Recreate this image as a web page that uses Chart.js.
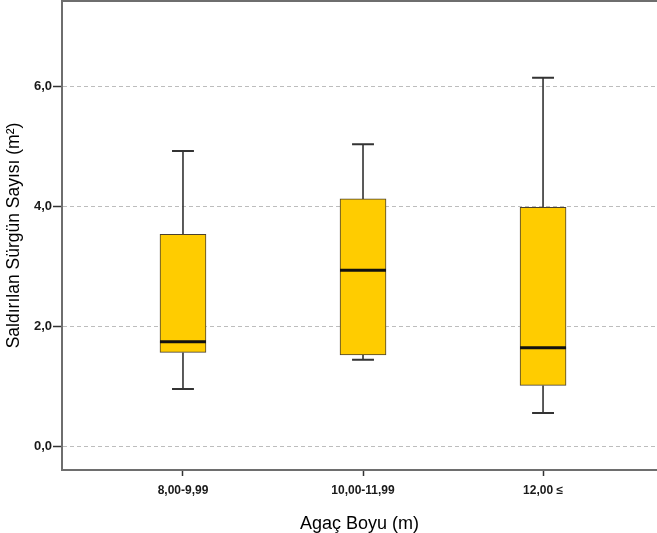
<!DOCTYPE html>
<html>
<head>
<meta charset="utf-8">
<script src="https://cdn.jsdelivr.net/npm/chart.js@4/dist/chart.umd.min.js"></script>
<style>
  html, body { margin: 0; padding: 0; background: #ffffff; }
  #wrap { width: 657px; height: 533px; }
</style>
</head>
<body>
<div id="wrap"><canvas id="c" width="657" height="533"></canvas></div>
<script>
const categories = ['8,00-9,99', '10,00-11,99', '12,00 \u2264'];
const whiskerLow = [0.95, 1.44, 0.55];
const quartile1 = [1.56, 1.52, 1.01];
const medians = [1.74, 2.93, 1.64];
const quartile3 = [3.53, 4.12, 3.98];
const whiskerHigh = [4.92, 5.03, 6.14];
const yTickValues = [0, 2, 4, 6];

const boxData = categories.map((c, i) => ({ x: i + 1, y: [quartile1[i], quartile3[i]] }));

const fontFamily = '"Liberation Sans", Arial, sans-serif';

const boxPlotPlugin = {
  id: 'boxPlotParts',
  beforeDatasetsDraw(chart) {
    const ctx = chart.ctx;
    const xs = chart.scales.x, ys = chart.scales.y;
    const meta = chart.getDatasetMeta(0);
    ctx.save();
    ctx.strokeStyle = '#333333';
    categories.forEach((c, i) => {
      const x = xs.getPixelForValue(i + 1);
      const yLo = ys.getPixelForValue(whiskerLow[i]);
      const yHi = ys.getPixelForValue(whiskerHigh[i]);
      const yQ1 = ys.getPixelForValue(quartile1[i]);
      const yQ3 = ys.getPixelForValue(quartile3[i]);
      ctx.lineWidth = 1.6;
      ctx.beginPath();
      ctx.moveTo(x, yHi); ctx.lineTo(x, yQ3);
      ctx.moveTo(x, yQ1); ctx.lineTo(x, yLo);
      ctx.stroke();
      const half = meta.data[i].width / 4.2;
      ctx.lineWidth = 2;
      ctx.beginPath();
      ctx.moveTo(x - half, yHi); ctx.lineTo(x + half, yHi);
      ctx.moveTo(x - half, yLo); ctx.lineTo(x + half, yLo);
      ctx.stroke();
    });
    ctx.restore();
  },
  afterDatasetsDraw(chart) {
    const ctx = chart.ctx;
    const xs = chart.scales.x, ys = chart.scales.y;
    const meta = chart.getDatasetMeta(0);
    ctx.save();
    ctx.strokeStyle = '#111111';
    ctx.lineWidth = 3;
    categories.forEach((c, i) => {
      const x = xs.getPixelForValue(i + 1);
      const half = meta.data[i].width / 2;
      const y = ys.getPixelForValue(medians[i]);
      ctx.beginPath();
      ctx.moveTo(x - half, y); ctx.lineTo(x + half, y);
      ctx.stroke();
    });
    ctx.restore();
  },
  afterDraw(chart) {
    const ctx = chart.ctx;
    const a = chart.chartArea;
    ctx.save();
    ctx.strokeStyle = '#6e6e6e';
    ctx.lineWidth = 2;
    ctx.beginPath();
    ctx.moveTo(a.left - 1, a.top);
    ctx.lineTo(a.right, a.top);
    ctx.stroke();
    ctx.restore();
  }
};

new Chart(document.getElementById('c'), {
  type: 'bar',
  data: {
    datasets: [{
      data: boxData,
      backgroundColor: '#FFCC00',
      borderColor: '#4a4030',
      borderWidth: 1,
      borderSkipped: false,
      barThickness: 46
    }]
  },
  plugins: [boxPlotPlugin],
  options: {
    responsive: false,
    animation: false,
    layout: { padding: { top: 1, right: 0, left: 0, bottom: 0 } },
    plugins: { legend: { display: false }, tooltip: { enabled: false } },
    scales: {
      x: {
        type: 'linear',
        offset: false,
        min: 0.328,
        max: 3.633,
        afterBuildTicks(scale) { scale.ticks = categories.map((c, i) => ({ value: i + 1 })); },
        afterFit(scale) { scale.height = 63; scale.paddingLeft = 0; scale.paddingRight = 0; },
        ticks: {
          autoSkip: false,
          maxRotation: 0,
          padding: 7,
          color: '#1a1a1a',
          font: { family: fontFamily, size: 12, weight: 'bold' },
          callback: (v) => categories[v - 1]
        },
        grid: {
          offset: false,
          drawOnChartArea: false,
          drawTicks: true,
          tickLength: 6,
          tickColor: '#333333',
          tickWidth: 1.5
        },
        border: { display: true, color: '#6e6e6e', width: 2 },
        title: {
          display: true,
          text: 'Agaç Boyu (m)',
          color: '#000000',
          font: { family: fontFamily, size: 18 },
          padding: { top: 0, bottom: -2 }
        }
      },
      y: {
        type: 'linear',
        min: -0.4,
        max: 7.42,
        afterBuildTicks(scale) { scale.ticks = yTickValues.map(v => ({ value: v })); },
        afterFit(scale) { scale.width = 62; scale.paddingTop = 0; scale.paddingBottom = 0; },
        ticks: {
          padding: 1,
          color: '#1a1a1a',
          font: { family: fontFamily, size: 13, weight: 'bold' },
          callback: (v) => v.toFixed(1).replace('.', ',')
        },
        grid: {
          color: '#bdbdbd',
          lineWidth: 1,
          tickLength: 9,
          tickColor: '#333333',
          tickWidth: 1.5,
          tickBorderDash: []
        },
        border: { display: true, color: '#6e6e6e', width: 2, dash: [4, 3] },
        title: {
          display: true,
          text: 'Saldırılan Sürgün Sayısı (m²)',
          color: '#000000',
          font: { family: fontFamily, size: 17.5 },
          padding: { top: 4, bottom: 0 }
        }
      }
    }
  }
});
</script>
</body>
</html>
